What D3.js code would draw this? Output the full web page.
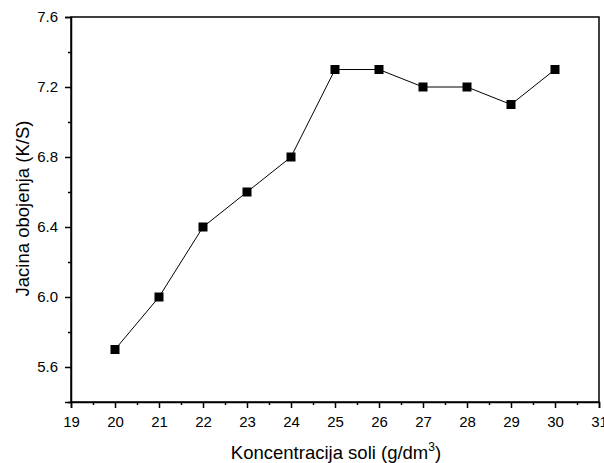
<!DOCTYPE html>
<html><head><meta charset="utf-8">
<script src="https://cdn.jsdelivr.net/npm/d3@7"></script>
<style>body{margin:0;background:#fff}svg{display:block}text{font-family:"Liberation Sans",Arial,sans-serif;fill:#000}</style>
</head><body><svg id="c" width="604" height="463"></svg>
<script>
const concentrations = [20,21,22,23,24,25,26,27,28,29,30];
const intensity = [5.7,6.0,6.4,6.6,6.8,7.3,7.3,7.2,7.2,7.1,7.3];
const xTicks = [19,20,21,22,23,24,25,26,27,28,29,30,31];
const yTicks = [5.6,6.0,6.4,6.8,7.2,7.6];
const xMinor = [19.5,20.5,21.5,22.5,23.5,24.5,25.5,26.5,27.5,28.5,29.5,30.5];
const yMinor = [5.4,5.8,6.2,6.6,7.0,7.4];

const svg = d3.select("#c");
const L=71,R=599,T=17,B=402;
const x = d3.scaleLinear().domain([19,31]).range([L,R]);
const y = d3.scaleLinear().domain([5.4,7.6]).range([B,T]);

// frame
svg.append("rect").attr("x",L).attr("y",T).attr("width",R-L).attr("height",B-T)
  .attr("fill","none").attr("stroke","#000").attr("stroke-width",1.5);

svg.append("g").attr("transform",`translate(0,${B})`)
  .call(d3.axisBottom(x).tickValues(xTicks).tickFormat(d3.format("d")).tickSize(6).tickPadding(8));
svg.append("g").attr("transform",`translate(0,${B})`)
  .call(d3.axisBottom(x).tickValues(xMinor).tickFormat("").tickSize(3))
  .call(g=>g.select(".domain").remove());
svg.append("g").attr("transform",`translate(${L},0)`)
  .call(d3.axisLeft(y).tickValues(yTicks).tickFormat(d3.format(".1f")).tickSize(6).tickPadding(7));
svg.append("g").attr("transform",`translate(${L},0)`)
  .call(d3.axisLeft(y).tickValues(yMinor).tickFormat("").tickSize(3))
  .call(g=>g.select(".domain").remove());
svg.selectAll(".domain").attr("stroke-width",1.5);
svg.selectAll(".tick line").attr("stroke-width",1.5);
svg.selectAll(".tick text").attr("font-size",15).style("font-family","'Liberation Sans',Arial,sans-serif");

// line
svg.append("path").datum(concentrations.map((c,i)=>[c,intensity[i]]))
  .attr("fill","none").attr("stroke","#000").attr("stroke-width",1)
  .attr("d",d3.line().x(d=>x(d[0])).y(d=>y(d[1])));
svg.selectAll("rect.m").data(concentrations.map((c,i)=>[c,intensity[i]])).enter()
  .append("rect").attr("class","m")
  .attr("x",d=>x(d[0])-4.5).attr("y",d=>y(d[1])-4.5).attr("width",9).attr("height",9).attr("fill","#000");

// titles
svg.append("text").attr("x",336).attr("y",459).attr("text-anchor","middle").attr("font-size",18.5)
  .html('Koncentracija soli (g/dm<tspan dy="-8" font-size="12">3</tspan><tspan dy="8">)</tspan>');
svg.append("text").attr("transform",`translate(29,208.5) rotate(-90)`).attr("text-anchor","middle")
  .attr("font-size",18.5).text("Jacina obojenja (K/S)");
</script></body></html>
